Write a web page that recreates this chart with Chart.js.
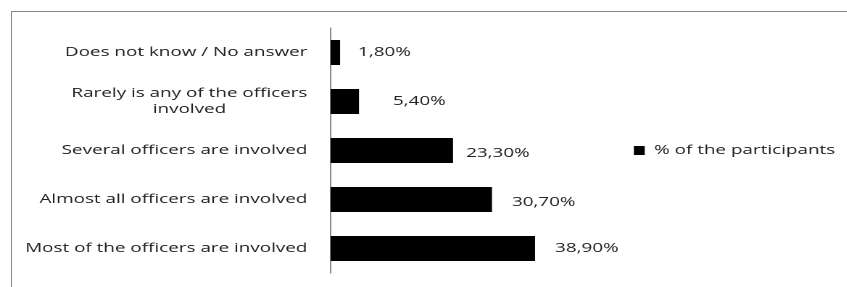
<!DOCTYPE html>
<html>
<head>
<meta charset="utf-8">
<script src="https://cdn.jsdelivr.net/npm/chart.js@4"></script>
<style>
  html, body { margin:0; padding:0; background:#fff; overflow:hidden; }
  #frame { position:absolute; left:11px; top:11px; width:900px; height:300px;
           border-left:1px solid #888; border-top:1px solid #888; }
  /* the source picture is stretched sideways, so the chart is drawn narrow and widened */
  #wrap { position:absolute; left:0; top:0; width:584px; height:287px;
          transform:scaleX(1.45); transform-origin:0 0; }
</style>
</head>
<body>
<div id="frame"></div>
<div id="wrap"><canvas id="chart"></canvas></div>
<script>
// ---- data ----
const categories = [
  'Does not know / No answer',
  ['Rarely is any of the officers', 'involved'],
  'Several officers are involved',
  'Almost all officers are involved',
  'Most of the officers are involved'
];
const participants = [1.8, 5.4, 23.3, 30.7, 38.9];
const seriesName = '% of the participants';

const FONT = '13px "Open Sans"';

// category labels: single lines right aligned, wrapped ones centred on their block
const catLabels = {
  id: 'catLabels',
  afterDraw(chart, args, opts) {
    const { ctx } = chart;
    const y = chart.scales.y;
    ctx.save();
    ctx.font = FONT;
    ctx.fillStyle = opts.color;
    ctx.textAlign = 'center';
    ctx.textBaseline = 'middle';
    chart.data.labels.forEach((lab, i) => {
      const lines = [].concat(lab);
      const w = Math.max(...lines.map(l => ctx.measureText(l).width));
      const cx = opts.right - w / 2;
      const cy = y.getPixelForTick(i);
      lines.forEach((l, j) => ctx.fillText(l, cx, cy + (j - (lines.length - 1) / 2) * opts.lineHeight));
    });
    ctx.restore();
  }
};

// value labels after each bar
const valueLabels = {
  id: 'valueLabels',
  afterDatasetsDraw(chart, args, opts) {
    const { ctx } = chart;
    const meta = chart.getDatasetMeta(0);
    ctx.save();
    ctx.font = FONT;
    ctx.fillStyle = opts.color;
    ctx.textAlign = 'left';
    ctx.textBaseline = 'middle';
    meta.data.forEach((bar, i) => {
      const v = chart.data.datasets[0].data[i];
      const txt = v.toFixed(2).replace('.', ',') + '%';
      ctx.fillText(txt, bar.x + opts.dx[i], bar.y + opts.dy[i]);
    });
    ctx.restore();
  }
};

new Chart(document.getElementById('chart'), {
  type: 'bar',
  data: {
    labels: categories,
    datasets: [{
      label: seriesName,
      data: participants,
      backgroundColor: '#000',
      borderWidth: 0,
      categoryPercentage: 1,
      barPercentage: 0.51
    }]
  },
  options: {
    indexAxis: 'y',
    responsive: true,
    maintainAspectRatio: false,
    animation: false,
    devicePixelRatio: 2,
    layout: { padding: { left: 228, top: 28, bottom: 14, right: -2 } },
    scales: {
      x: { display: false, min: 0, max: 56.6 },
      y: {
        grid: { display: false, drawTicks: false },
        border: { display: true, color: '#8a8a8a', width: 1 },
        ticks: { display: false }
      }
    },
    plugins: {
      legend: {
        position: 'right',
        maxWidth: 300,
        labels: {
          boxWidth: 7.5, boxHeight: 9, padding: 4,
          color: '#222',
          font: { family: 'Open Sans', size: 13 }
        }
      },
      tooltip: { enabled: false },
      catLabels: { right: 212, lineHeight: 16, color: '#222' },
      valueLabels: { color: '#222', dx: [12.4, 23.4, 9, 13.8, 13.8], dy: [0, 0, 3, 3, 0] }
    }
  },
  plugins: [catLabels, valueLabels]
});
</script>
</body>
</html>
